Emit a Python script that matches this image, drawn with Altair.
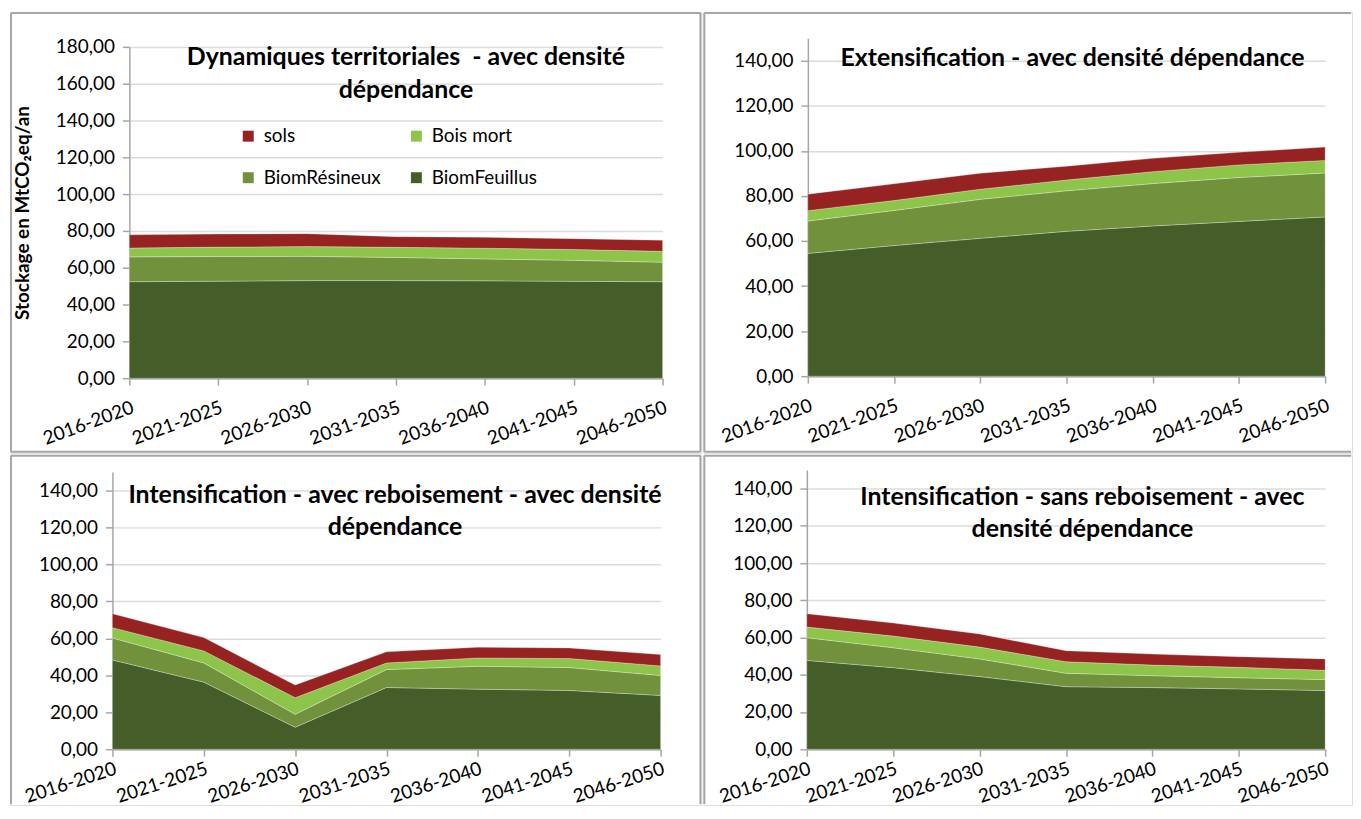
import altair as alt
import pandas as pd

# ---------------- data ----------------
periods = ["2016-2020", "2021-2025", "2026-2030", "2031-2035",
           "2036-2040", "2041-2045", "2046-2050"]
series = ["BiomFeuillus", "BiomRésineux", "Bois mort", "sols"]          # stack order (bottom -> top)
legend_order = ["sols", "Bois mort", "BiomRésineux", "BiomFeuillus"]
legend_colors = ["#962222", "#8DC44A", "#71913C", "#455D29"]

# Panel 1 : Dynamiques territoriales
p1_feuillus = [52.4, 52.7, 53.0, 53.0, 52.9, 52.6, 52.4]
p1_resineux = [13.5, 13.4, 13.2, 12.6, 11.9, 11.4, 10.6]
p1_boismort = [4.8, 5.1, 5.3, 5.5, 5.8, 5.9, 5.9]
p1_sols = [7.2, 7.1, 7.0, 5.8, 5.9, 5.9, 6.0]

# Panel 2 : Extensification
p2_feuillus = [54.5, 58.0, 61.2, 64.3, 66.7, 68.7, 70.7]
p2_resineux = [14.4, 15.6, 17.3, 18.0, 18.8, 19.5, 19.5]
p2_boismort = [4.6, 4.4, 4.5, 4.8, 5.3, 5.6, 5.6]
p2_sols = [7.3, 7.4, 7.1, 6.1, 5.9, 5.6, 5.9]

# Panel 3 : Intensification avec reboisement
p3_feuillus = [48.3, 36.3, 11.9, 33.4, 32.5, 31.8, 29.1]
p3_resineux = [11.9, 10.4, 7.0, 9.7, 12.4, 12.4, 10.8]
p3_boismort = [5.6, 6.5, 9.0, 3.6, 4.5, 4.9, 5.2]
p3_sols = [7.5, 7.2, 6.8, 6.0, 5.8, 5.7, 6.1]

# Panel 4 : Intensification sans reboisement
p4_feuillus = [47.7, 43.8, 39.0, 33.6, 33.1, 32.4, 31.5]
p4_resineux = [12.2, 10.7, 9.5, 7.2, 6.4, 6.0, 5.9]
p4_boismort = [5.7, 6.3, 6.4, 6.2, 5.7, 5.6, 5.0]
p4_sols = [7.2, 7.0, 7.0, 5.9, 5.9, 5.7, 6.1]

ticks_180 = [0, 20, 40, 60, 80, 100, 120, 140, 160, 180]
ticks_140 = [0, 20, 40, 60, 80, 100, 120, 140]

title1 = ["Dynamiques territoriales \u00a0- avec densité", "dépendance"]
title2 = ["Extensification - avec densité dépendance"]
title3 = ["Intensification - avec reboisement - avec densité", "dépendance"]
title4 = ["Intensification - sans reboisement - avec", "densité dépendance"]
ytitle = "Stockage en MtCO₂eq/an"

FONT = "Lato"
GREY = "#a6a6a6"
LBL = 19
XLBL = 19
TITLE_SIZE = 25


def build_df(cols):
    rows = []
    for k, (s, vals) in enumerate(zip(series, cols)):
        for p, v in zip(periods, vals):
            rows.append({"period": p, "serie": s, "value": v, "ord": k})
    return pd.DataFrame(rows)


def frame(W, H, sides):
    one = pd.DataFrame({"b": [0]})
    layers = []
    for s in sides:
        r = alt.Chart(one).mark_rule(color=GREY, strokeWidth=2)
        if s == "L":
            r = r.encode(x=alt.value(1), y=alt.value(1), y2=alt.value(H - 1))
        elif s == "R":
            r = r.encode(x=alt.value(W - 1), y=alt.value(1), y2=alt.value(H - 1))
        elif s == "T":
            r = r.encode(y=alt.value(1), x=alt.value(1), x2=alt.value(W - 1))
        else:
            r = r.encode(y=alt.value(H - 1), x=alt.value(1), x2=alt.value(W - 1))
        layers.append(r)
    return layers


def panel(cols, ymax, yticks, W, H, plot, tlines, tx, ty, sides, xpad, xangle,
          show_legend=False, yt=None):
    x0, x1, ytop, ybot = plot
    yaxis_kw = dict(
        values=yticks, offset=-x0,
        labelExpr="replace(format(datum.value, '.2f'), '.', ',')",
        labelFont=FONT, labelFontSize=LBL, labelColor="#000000", labelPadding=8,
        tickSize=7, tickColor=GREY, tickWidth=1.5,
        domainColor=GREY, domainWidth=1.5,
        grid=True, gridColor="#dcdcdc", gridWidth=1.5,
    )
    if yt:
        yaxis_kw.update(title=yt, titleFont=FONT, titleFontSize=LBL, titleFontWeight="bold",
                        titleColor="#000000", titleAngle=270, titleX=-107,
                        titleY=(ytop + ybot) / 2, titleAlign="center", titleBaseline="middle")
    else:
        yaxis_kw.update(title=None)

    if show_legend:
        leg = alt.Legend(orient="none", legendX=230, legendY=115, columns=2,
                         direction="horizontal", title=None, symbolType="square",
                         symbolSize=121, symbolStrokeWidth=0, symbolOpacity=1,
                         labelFont=FONT, labelFontSize=LBL, labelColor="#000000",
                         labelOffset=6, rowPadding=22, columnPadding=26, padding=0)
    else:
        leg = None

    area = alt.Chart(build_df(cols)).mark_area(
        opacity=1, stroke="white", strokeWidth=0.8, strokeOpacity=0.35
    ).encode(
        x=alt.X("period:N", sort=periods,
                scale=alt.Scale(type="point", padding=0, range=[x0, x1]),
                axis=alt.Axis(title=None, offset=-(H - ybot), labelAngle=xangle, labelFont=FONT,
                              labelFontSize=XLBL, labelColor="#000000", labelPadding=xpad,
                              tickSize=7, tickColor=GREY, tickWidth=1.5,
                              domainColor=GREY, domainWidth=1.5, grid=False)),
        y=alt.Y("value:Q", stack="zero",
                scale=alt.Scale(domain=[0, ymax], nice=False, range=[ybot, ytop]),
                axis=alt.Axis(**yaxis_kw)),
        color=alt.Color("serie:N", scale=alt.Scale(domain=legend_order, range=legend_colors),
                        legend=leg),
        order=alt.Order("ord:Q", sort="ascending"),
    )

    title = alt.Chart(pd.DataFrame({"t": [0]})).mark_text(
        align="center", baseline="top", font=FONT, fontSize=TITLE_SIZE, fontWeight="bold",
        lineHeight=33, color="#000000"
    ).encode(x=alt.value(tx), y=alt.value(ty), text=alt.value(tlines))

    return alt.layer(*frame(W, H, sides), area, title).properties(width=W, height=H)


p1 = panel([p1_feuillus, p1_resineux, p1_boismort, p1_sols], 180, ticks_180, 695, 443,
           (120, 656, 35, 368), title1, 398, 33, "LTRB", 13, -20, show_legend=True, yt=ytitle)
p2 = panel([p2_feuillus, p2_resineux, p2_boismort, p2_sols], 150, ticks_140, 652, 443,
           (105, 625, 26.4, 366), title2, 371, 34, "LTB", 13, -20)
p3 = panel([p3_feuillus, p3_resineux, p3_boismort, p3_sols], 150, ticks_140, 695, 352,
           (103, 654, 17.4, 296), title3, 387, 28, "LTR", 3, -18)
p4 = panel([p4_feuillus, p4_resineux, p4_boismort, p4_sols], 150, ticks_140, 652, 352,
           (104, 625, 15.3, 296), title4, 381, 30, "LT", 3, -18)

chart = alt.concat(p1, p2, p3, p4, columns=2, spacing=0).resolve_scale(
    color="independent", x="independent", y="independent"
).resolve_legend(color="independent").properties(
    padding={"left": 1, "top": 1, "right": 0, "bottom": 0}
).configure_view(strokeWidth=0).configure(font=FONT)

chart.save("out.html", embed_options={"renderer": "svg", "actions": False})
